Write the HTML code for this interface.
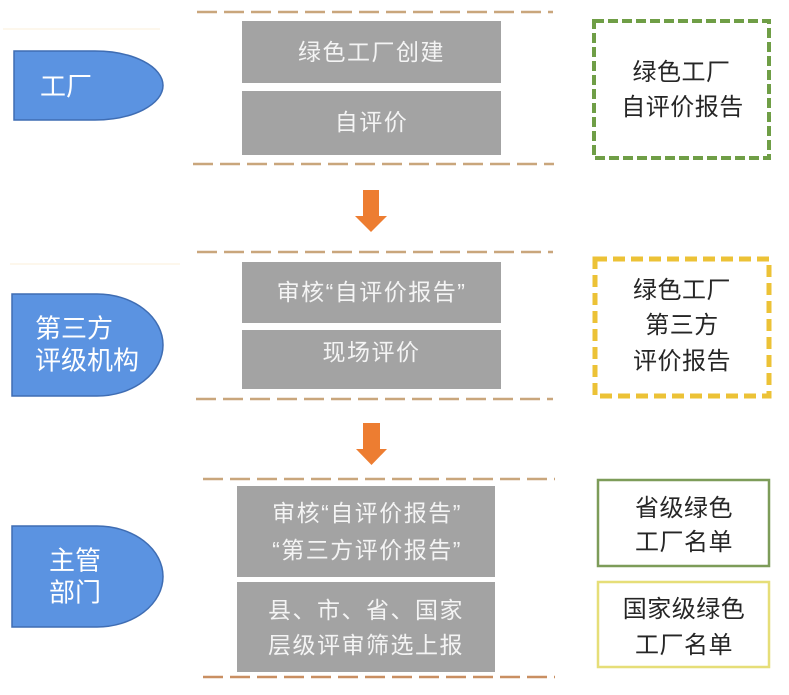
<!DOCTYPE html>
<html>
<head>
<meta charset="utf-8">
<style>
  html,body{margin:0;padding:0;background:#ffffff;}
  svg{display:block;}
  text{font-family:"Liberation Sans","Noto Sans CJK SC",sans-serif;}
</style>
</head>
<body>
<svg width="789" height="695" viewBox="0 0 789 695" xmlns="http://www.w3.org/2000/svg">
  <rect x="0" y="0" width="789" height="695" fill="#ffffff"/>

  <!-- faint decorative lines -->
  <line x1="3" y1="29" x2="160" y2="29" stroke="#fdf7ec" stroke-width="2"/>
  <line x1="10" y1="264" x2="180" y2="264" stroke="#fdf7ec" stroke-width="2"/>

  <!-- Section dashed lines -->
  <g stroke="#c9a67c" stroke-width="2.5" stroke-dasharray="20 7" fill="none">
    <line x1="197" y1="12" x2="553" y2="12"/>
    <line x1="193" y1="164" x2="554" y2="164"/>
    <line x1="197" y1="252" x2="553" y2="252"/>
    <line x1="196" y1="399" x2="553" y2="399"/>
    <line x1="203" y1="479" x2="555" y2="479"/>
  </g>
  <line x1="203" y1="677" x2="555" y2="677" stroke="#c98f62" stroke-width="2.5" stroke-dasharray="20 7"/>

  <!-- Gray boxes -->
  <g fill="#a3a3a3">
    <rect x="242" y="21" width="259" height="62"/>
    <rect x="242" y="91" width="259" height="64"/>
    <rect x="242" y="262" width="259" height="61"/>
    <rect x="242" y="330" width="259" height="59"/>
    <rect x="237" y="486" width="258" height="91"/>
    <rect x="237" y="582" width="258" height="90"/>
  </g>
  <g fill="#f4f4f4" font-size="23" text-anchor="middle" letter-spacing="1.5">
    <text x="371.5" y="60">绿色工厂创建</text>
    <text x="371.5" y="130">自评价</text>
    <text x="371.5" y="300">审核“自评价报告”</text>
    <text x="371.5" y="360">现场评价</text>
    <text x="367" y="521">审核“自评价报告”</text>
    <text x="367" y="558">“第三方评价报告”</text>
    <text x="366" y="618">县、市、省、国家</text>
    <text x="366" y="653">层级评审筛选上报</text>
  </g>

  <!-- Blue shapes -->
  <g fill="#5b93e1" stroke="#3f6db3" stroke-width="1.5">
    <path d="M14,51 H95 A68,34.5 0 0 1 95,120 H14 Z"/>
    <path d="M12,294 H97 A66,51 0 0 1 97,396 H12 Z"/>
    <path d="M12,526 H97 A66,50.5 0 0 1 97,627 H12 Z"/>
  </g>
  <g fill="#ffffff" font-size="26">
    <text x="40" y="95.5">工厂</text>
    <text x="35" y="337.5">第三方</text>
    <text x="35" y="369.5">评级机构</text>
    <text x="49" y="569.5">主管</text>
    <text x="49" y="601.5">部门</text>
  </g>

  <!-- Orange arrows -->
  <g fill="#ed7d31">
    <path d="M363,190 H379 V216 H387 L371,232 L355,216 H363 Z"/>
    <path d="M363,423 H380 V449 H387 L371.5,465 L356,449 H363 Z"/>
  </g>

  <!-- Right boxes -->
  <rect x="594" y="21" width="175" height="137" fill="none" stroke="#6f9e46" stroke-width="4" stroke-dasharray="10 4"/>
  <rect x="595" y="259" width="174" height="137" fill="none" stroke="#ecc236" stroke-width="5" stroke-dasharray="12 6"/>
  <rect x="598" y="480" width="171" height="86" fill="none" stroke="#7d9c59" stroke-width="2.5"/>
  <rect x="598" y="582" width="171" height="85" fill="none" stroke="#e6de78" stroke-width="2.5"/>

  <g fill="#262626" font-size="24" text-anchor="middle" letter-spacing="0.5">
    <text x="681.5" y="80">绿色工厂</text>
    <text x="682.5" y="115">自评价报告</text>
    <text x="682" y="298">绿色工厂</text>
    <text x="682" y="333">第三方</text>
    <text x="682" y="369">评价报告</text>
    <text x="684" y="516">省级绿色</text>
    <text x="684" y="550">工厂名单</text>
    <text x="684" y="617">国家级绿色</text>
    <text x="684" y="653">工厂名单</text>
  </g>
</svg>
</body>
</html>
